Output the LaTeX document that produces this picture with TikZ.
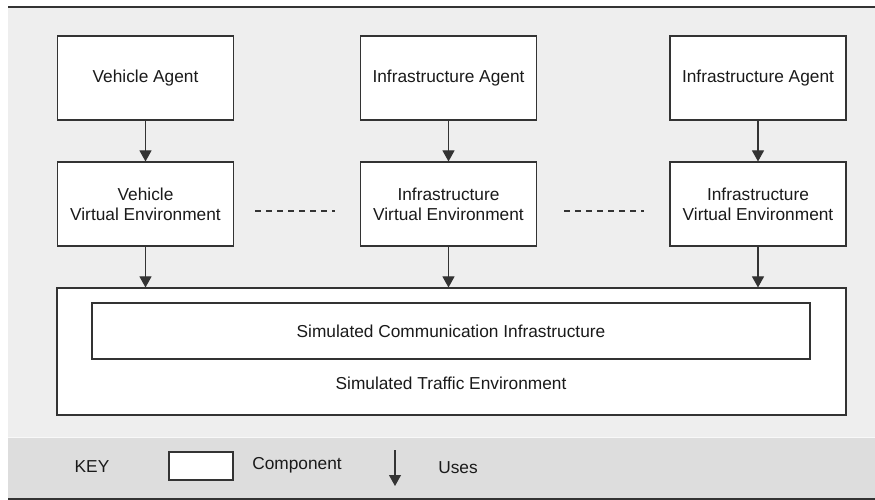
\documentclass[tikz,border=0pt]{standalone}
\usepackage{fontspec}
\setmainfont{Liberation Sans}
\usetikzlibrary{arrows.meta}
\definecolor{bgmain}{HTML}{EEEEEE}
\definecolor{bgkey}{HTML}{DDDDDD}
\definecolor{edgec}{HTML}{333333}
\definecolor{txtc}{HTML}{1A1A1A}
\begin{document}
\begin{tikzpicture}[x=1bp,y=-1bp,
  every node/.style={font=\fontsize{17.3bp}{20bp}\selectfont, text=txtc, inner sep=0pt},
  compbox/.style={draw=edgec, line width=1.1bp, fill=white, align=center},
  agentbox/.style={compbox, minimum width=176bp, minimum height=84bp},
  vebox/.style={compbox, minimum width=176bp, minimum height=84bp},
  uses/.style={draw=edgec, line width=1.1bp, -{Triangle[length=11bp,width=12bp]}},
  ddash/.style={draw=edgec, line width=1.1bp, dash pattern=on 6bp off 5bp},
  lbl/.style={}
]
\useasboundingbox (0,0) rectangle (875,500);
% backgrounds
\fill[bgmain] (8,7) rectangle (875,437);
\fill[bgkey] (8,437) rectangle (875,499);
\draw[white!60!bgmain, line width=1bp] (8,437.5) -- (875,437.5);
\draw[edgec, line width=1.6bp] (8,7) -- (875,7);
\draw[edgec, line width=1.6bp] (8,499) -- (875,499);

% agents
\node[agentbox] (va) at (145.5,78) {Vehicle Agent};
\node[agentbox] (ia1) at (448.5,78) {Infrastructure Agent};
\node[agentbox] (ia2) at (758,78) {Infrastructure Agent};

% virtual environments
\node[vebox] (vve) at (145.5,204) {Vehicle\\Virtual Environment};
\node[vebox] (ive1) at (448.5,204) {Infrastructure\\Virtual Environment};
\node[vebox] (ive2) at (758,204) {Infrastructure\\Virtual Environment};

% traffic environment
\node[compbox, minimum width=789bp, minimum height=127bp] (traffic) at (451.5,351.5) {};
\node[compbox, minimum width=718bp, minimum height=56bp] (comm) at (451,331) {Simulated Communication Infrastructure};
\node[lbl] (trafficlbl) at (451,383) {Simulated Traffic Environment};

% uses arrows
\draw[uses] (va) -- (vve);
\draw[uses] (ia1) -- (ive1);
\draw[uses] (ia2) -- (ive2);
\draw[uses] (vve) -- (vve |- traffic.north);
\draw[uses] (ive1) -- (ive1 |- traffic.north);
\draw[uses] (ive2) -- (ive2 |- traffic.north);

% dashed "more" lines
\coordinate (d1a) at (255,211);
\coordinate (d1b) at (335,211);
\coordinate (d2a) at (564,211);
\coordinate (d2b) at (644,211);
\draw[ddash] (d1a) -- (d1b);
\draw[ddash] (d2a) -- (d2b);

% key
\node[lbl] (key) at (92,467) {KEY};
\node[compbox, minimum width=64bp, minimum height=28bp] (keybox) at (201,466) {};
\node[lbl] (keycomp) at (297,465) {Component};
\coordinate (keyarrowtop) at (395,450);
\coordinate (keyarrowtip) at (395,486);
\draw[uses] (keyarrowtop) -- (keyarrowtip);
\node[lbl] (keyuses) at (458,468) {Uses};
\end{tikzpicture}
\end{document}
